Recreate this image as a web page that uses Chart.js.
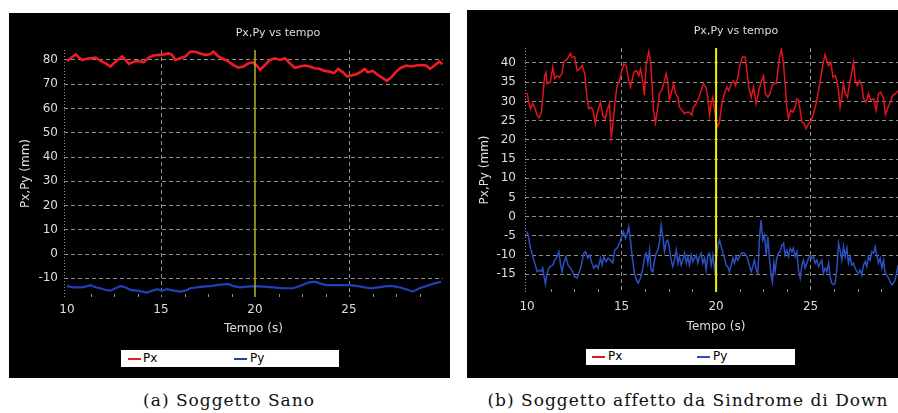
<!DOCTYPE html>
<html>
<head>
<meta charset="utf-8">
<script src="https://cdn.jsdelivr.net/npm/chart.js@4/dist/chart.umd.min.js"></script>
<style>
  body { margin: 0; width: 898px; height: 413px; overflow: hidden; background: #fff; position: relative; font-family: "DejaVu Sans", sans-serif; }
  .pannello { position: absolute; background: #000; }
  .legenda { position: absolute; background: #fff; font-size: 12px; color: #000; z-index: 2; }
  .legenda span { position: absolute; }
  .legenda .tratto { height: 2px; width: 13px; }
  .didascalia { position: absolute; width: 420px; text-align: center; font-family: "DejaVu Serif", serif; font-size: 17px; letter-spacing: 1px; line-height: 22px; color: #111; }
</style>
</head>
<body>

<div class="pannello" style="left:9px; top:13px; width:441px; height:365px;"><canvas id="sano" width="441" height="365"></canvas></div>
<div class="pannello" style="left:467px; top:10px; width:441px; height:368px;"><canvas id="down" width="441" height="368"></canvas></div>

<div class="legenda" style="left:121px; top:350px; width:218px; height:17px;">
  <span class="tratto" style="left:7px; top:8px; background:#ee1c24;"></span><span style="left:22px; top:1px;">Px</span>
  <span class="tratto" style="left:113px; top:8px; background:#2040b8;"></span><span style="left:129px; top:1px;">Py</span>
</div>
<div class="legenda" style="left:586px; top:349px; width:209px; height:16px;">
  <span class="tratto" style="left:6px; top:7px; background:#e0141e;"></span><span style="left:22px; top:0px;">Px</span>
  <span class="tratto" style="left:111px; top:7px; background:#2b4fc0;"></span><span style="left:127px; top:0px;">Py</span>
</div>

<div class="didascalia" style="left:19px; top:389px;">(a) Soggetto Sano</div>
<div class="didascalia" style="left:478px; top:389px;">(b) Soggetto affetto da Sindrome di Down</div>

<script>
// etichette degli assi
const tempoTick = [10, 15, 20, 25];
const sanoTickY = [-10, 0, 10, 20, 30, 40, 50, 60, 70, 80];
const downTickY = [-15, -10, -5, 0, 5, 10, 15, 20, 25, 30, 35, 40];

// soggetto sano
const sanoPxT = [10.0, 10.19, 10.46, 10.64, 10.81, 10.99, 11.25, 11.52, 11.78, 12.05, 12.31, 12.58, 12.93, 13.11, 13.29, 13.55, 13.82, 14.08, 14.35, 14.61, 14.88, 15.14, 15.41, 15.58, 15.76, 16.02, 16.29, 16.55, 16.82, 17.08, 17.35, 17.61, 17.79, 18.06, 18.32, 18.59, 18.85, 19.12, 19.38, 19.65, 19.88, 20.09, 20.27, 20.53, 20.8, 21.06, 21.33, 21.59, 21.86, 22.12, 22.39, 22.65, 22.92, 23.18, 23.45, 23.71, 23.98, 24.19, 24.42, 24.68, 24.89, 25.12, 25.39, 25.65, 25.83, 26.0, 26.27, 26.54, 26.8, 27.01, 27.24, 27.51, 27.77, 28.04, 28.3, 28.57, 28.83, 29.1, 29.31, 29.54, 29.81, 29.98];
const sanoPx = [79.6, 80.7, 82.3, 81, 80, 80.4, 80.7, 81, 79.6, 78.6, 77.3, 79.3, 81.4, 80, 78.4, 79.3, 79.6, 79, 81, 81.8, 82.1, 82.3, 82.7, 82.1, 80, 80.7, 81.4, 83.4, 83.4, 82.7, 82.1, 82.3, 83.4, 81.4, 80.4, 79.3, 77.9, 76.8, 77.3, 78.6, 79, 77.7, 75.9, 77.9, 80, 80.7, 80, 80.7, 78.6, 76.8, 77.3, 77.7, 77.3, 76.6, 76.3, 75.5, 75.2, 74.5, 76.3, 74.9, 73.2, 73.6, 74.1, 75.2, 76.3, 74.9, 75.5, 73.8, 72.5, 71.4, 72.7, 75.2, 76.8, 77.7, 77.3, 77.7, 77.9, 77.7, 76.3, 77.7, 79.3, 78.2];
const sanoPyT = [10, 10.37, 10.72, 10.99, 11.25, 11.52, 11.78, 12.05, 12.31, 12.58, 12.84, 13.11, 13.37, 13.73, 13.99, 14.26, 14.52, 14.79, 15.05, 15.32, 15.67, 16.02, 16.29, 16.55, 16.91, 17.26, 17.61, 17.97, 18.32, 18.59, 18.85, 19.21, 19.56, 20.0, 20.44, 20.97, 21.5, 22.03, 22.39, 22.83, 23.18, 23.45, 23.8, 24.15, 24.59, 25.04, 25.48, 25.83, 26.18, 26.54, 26.98, 27.33, 27.69, 28.04, 28.39, 28.75, 29.1, 29.45, 29.9];
const sanoPy = [-13.2, -13.7, -13.7, -13.4, -12.8, -13.7, -14.1, -14.8, -15.1, -14.1, -13.2, -13.7, -14.8, -15.1, -15.5, -15.9, -15.1, -14.5, -15.1, -14.5, -15.1, -15.5, -15.1, -14.1, -13.7, -13.4, -13.2, -12.8, -12.5, -12.3, -13.2, -13.7, -13.4, -13.2, -13.4, -13.7, -14.1, -14.1, -13.2, -11.8, -11.4, -12.1, -12.8, -12.8, -12.8, -12.8, -13.2, -13.7, -14.1, -13.7, -13.2, -13.2, -13.7, -14.5, -15.5, -14.1, -13.2, -12.3, -11.4];

// soggetto con sindrome di Down
const downPxT = [10.0, 10.09, 10.18, 10.3, 10.4, 10.53, 10.65, 10.76, 10.83, 10.93, 11.0, 11.06, 11.23, 11.36, 11.46, 11.59, 11.71, 11.85, 11.94, 12.12, 12.29, 12.38, 12.52, 12.65, 12.77, 12.91, 13.05, 13.17, 13.26, 13.38, 13.49, 13.61, 13.7, 13.88, 14.0, 14.14, 14.23, 14.36, 14.45, 14.53, 14.64, 14.76, 14.89, 15.03, 15.12, 15.24, 15.38, 15.47, 15.65, 15.79, 15.91, 16.0, 16.13, 16.21,
  16.3, 16.44, 16.55, 16.62, 16.69, 16.79, 16.92, 17.0, 17.15, 17.27, 17.36, 17.45, 17.53, 17.62, 17.75, 17.85, 17.98, 18.06, 18.2, 18.33, 18.45, 18.59, 18.72, 18.8, 18.95, 19.09, 19.21, 19.33, 19.47, 19.56, 19.65, 19.74, 19.83, 19.92, 20.0, 20.09, 20.18, 20.32, 20.44, 20.57, 20.67, 20.8, 20.92, 21.03, 21.15, 21.27, 21.41, 21.54, 21.63, 21.73, 21.86, 21.98, 22.12, 22.26, 22.38, 22.51, 22.61, 22.74,
  22.86, 22.95, 23.07, 23.18, 23.25, 23.35, 23.46, 23.57, 23.65, 23.74, 23.83, 23.95, 24.06, 24.18, 24.27, 24.36, 24.45, 24.54, 24.66, 24.76, 24.89, 25.01, 25.15, 25.29, 25.42, 25.54, 25.65, 25.77, 25.86, 25.95, 26.07, 26.18, 26.3, 26.39, 26.48, 26.56, 26.65, 26.74, 26.83, 26.95, 27.06, 27.15, 27.27, 27.36, 27.48, 27.59, 27.71, 27.8, 27.94, 28.06, 28.19, 28.33, 28.47, 28.59, 28.71, 28.86, 28.96, 29.07, 29.21, 29.35, 29.49, 29.63];
const downPx = [32.2, 29.8, 28.1, 29.4, 28.5, 26.4, 25.8, 27.2, 31.1, 36.7, 37.6, 34.6, 35, 38.9, 35.9, 36.7, 36.3, 37.2, 40.2, 41, 42.5, 41.5, 41.6, 38, 38.4, 39.3, 37.2, 31.1, 28.1, 28.5, 27.7, 24.2, 26.8, 29.8, 26.4, 25.5, 27.7, 29.4, 20.8, 23.4, 29.4, 34.1, 35.4, 38.4, 39.7, 39.3, 35.4, 33.7, 37.6, 38, 36.7, 38.4, 35, 31.6,
  39.7, 43, 39.7, 33.7, 27.7, 24.4, 28.5, 32, 33.3, 35.4, 37.2, 34.6, 30.3, 32, 34.6, 32, 31.1, 28.5, 27.7, 26.8, 27.2, 27.2, 26.4, 28.5, 29.4, 31.1, 32.8, 34.6, 33.7, 31.1, 26.4, 29.4, 31.1, 27.7, 24.7, 23.5, 24.7, 29.8, 32, 33.7, 32.8, 34.6, 35.4, 34.1, 36.3, 39.7, 41.6, 41.5, 38, 33.7, 31.1, 33.7, 29.4, 32.8, 35, 36.7, 32, 31.1,
  32, 34.1, 34.7, 34.6, 37.2, 41.5, 43.6, 39.7, 34.6, 28.5, 25.5, 27.7, 27.2, 28.5, 30.7, 30.3, 27.7, 24.7, 24.2, 22.9, 24.2, 24.7, 26.8, 29.4, 32.8, 36.3, 39.7, 42.2, 40.6, 39.3, 40.2, 36.3, 36.7, 35.4, 32.8, 28.5, 31.1, 34.6, 32, 31.1, 34.6, 36.7, 40.2, 35.4, 34.1, 35.4, 34.1, 30.7, 29.8, 32, 30.3, 30.7, 27.7, 32, 32.4, 30.7, 26.6, 28.1, 29.8, 31.6, 32, 32.8];
const downPyT = [10.0, 10.09, 10.18, 10.26, 10.35, 10.44, 10.53, 10.65, 10.76, 10.83, 10.9, 10.97, 11.06, 11.15, 11.23, 11.36, 11.46, 11.59, 11.68, 11.76, 11.85, 11.94, 12.06, 12.17, 12.29, 12.41, 12.52, 12.65, 12.77, 12.87, 13.0, 13.09, 13.21, 13.32, 13.4, 13.53, 13.65, 13.76, 13.88, 13.97, 14.06, 14.18, 14.29, 14.41, 14.53, 14.64, 14.76, 14.89, 15.0, 15.09, 15.21, 15.3, 15.38, 15.47, 15.56, 15.68, 15.79, 15.88, 16.0, 16.13, 16.23,
  16.3, 16.39, 16.48, 16.56, 16.65, 16.74, 16.83, 16.92, 17.01, 17.09, 17.18, 17.27, 17.36, 17.45, 17.53, 17.62, 17.71, 17.8, 17.89, 17.98, 18.06, 18.15, 18.24, 18.33, 18.42, 18.5, 18.59, 18.68, 18.77, 18.86, 18.95, 19.03, 19.12, 19.21, 19.3, 19.39, 19.47, 19.56, 19.65, 19.74, 19.83, 19.92, 20.0, 20.09, 20.18, 20.27, 20.36, 20.45, 20.53, 20.62, 20.71, 20.8, 20.89, 20.97, 21.06, 21.15, 21.24, 21.36, 21.5, 21.63, 21.73, 21.86, 21.94, 22.03, 22.12, 22.21, 22.3, 22.38, 22.47, 22.56, 22.65, 22.74, 22.83, 22.91, 22.98,
  23.06, 23.12, 23.21, 23.3, 23.39, 23.48, 23.57, 23.65, 23.74, 23.83, 23.92, 24.01, 24.09, 24.18, 24.27, 24.36, 24.45, 24.54, 24.62, 24.71, 24.8, 24.89, 24.98, 25.06, 25.15, 25.24, 25.33, 25.42, 25.51, 25.59, 25.68, 25.77, 25.86, 25.95, 26.03, 26.12, 26.21, 26.3, 26.39, 26.48, 26.56, 26.65, 26.74, 26.83, 26.92, 27.0, 27.09, 27.18, 27.27, 27.36, 27.45, 27.53, 27.62, 27.71, 27.8, 27.89, 27.97, 28.06, 28.15, 28.24, 28.33, 28.42, 28.5, 28.59, 28.68, 28.77, 28.86, 28.94, 29.03, 29.12, 29.21, 29.3, 29.39, 29.47, 29.56, 29.63];
const downPy = [-3.9, -5.6, -8.2, -9.5, -11.3, -12.6, -14.3, -13.9, -14.3, -13.4, -15.6, -17.5, -14.7, -13.4, -13, -12.6, -11.3, -10.4, -9.1, -12.1, -14.3, -12.1, -10.4, -12.6, -13.4, -14.3, -15.6, -16, -14.3, -12.6, -9.5, -9.1, -10.8, -10, -11.7, -13.4, -12.6, -13.4, -10.8, -12.6, -10.4, -11.7, -10.8, -11.3, -12.1, -8.7, -8.2, -6.9, -5.2, -3.9, -5.6, -4.3, -2.6, -6.1, -10.4, -14.7, -16.5, -17.3, -16, -13.4, -10,
  -9.5, -12.1, -8.7, -13.9, -14.3, -11.3, -9.5, -8.7, -6.5, -2.2, -5.2, -9.1, -6.5, -6.1, -8.2, -11.3, -13, -11.3, -8.7, -12.1, -10.4, -12.6, -11.3, -9.5, -12.1, -10.4, -12.6, -10, -11.7, -10.8, -10, -12.1, -10.4, -9.5, -12.1, -10.8, -13.9, -10, -9.5, -12.6, -10, -13.9, -11.3, -7.8, -6.1, -7.8, -9.5, -10.8, -12.6, -13, -14.3, -12.6, -10.8, -12.1, -10.4, -11.3, -10.4, -9.4, -9.5, -10.4, -12.1, -14.3, -13, -11.3, -13.9, -14.7, -5.2, -0.9, -6.1, -4.8, -10, -5.2, -11.3, -15.2, -17,
  -12, -14.3, -10.8, -9.5, -9.1, -7.4, -6.9, -10, -8.7, -10.4, -8.2, -9.1, -8.2, -10.4, -9.1, -13.9, -16, -12.6, -11.3, -13.4, -12.1, -10.8, -10, -10.8, -10.4, -12.1, -11.3, -13, -12.1, -11.3, -14.7, -13.4, -14.3, -12.1, -15.6, -17.3, -17.7, -17.3, -13.4, -6.9, -8.7, -11.3, -7.8, -10.4, -8.2, -12.1, -10.4, -12.6, -12.1, -13.4, -14.3, -14.7, -13.9, -15.2, -12.6, -11.7, -13, -10.4, -11.3, -9.1, -9.5, -7.8, -10, -12.1, -10.8, -13.4, -11.3, -14.7, -15.2, -16, -16.9, -17.7, -17.3, -16.5, -14.3, -12.6];

const GRIGIO = '#8e8e8e';
const TESTO = '#dedede';
const FONT = '"DejaVu Sans", sans-serif';

function punti(t, v) {
  return t.map((x, i) => ({ x: x, y: v[i] }));
}

// asse punteggiato, tacche minori, cursore a t=20 e titolo
const decorazioni = {
  id: 'decorazioni',
  beforeDatasetsDraw(chart, args, o) {
    const { ctx, chartArea: a, scales: { x } } = chart;
    ctx.save();
    ctx.strokeStyle = GRIGIO;
    ctx.lineWidth = 1;
    ctx.setLineDash([1, 2]);
    ctx.beginPath();
    ctx.moveTo(a.left + 0.5, a.top);
    ctx.lineTo(a.left + 0.5, a.bottom);
    ctx.stroke();
    ctx.setLineDash([]);
    ctx.beginPath();
    for (let t = 10; t < x.max; t += 1.25) {
      if (t % 5 === 0) continue;
      const px = Math.round(x.getPixelForValue(t)) + 0.5;
      ctx.moveTo(px, a.bottom - 3);
      ctx.lineTo(px, a.bottom);
    }
    ctx.stroke();
    ctx.restore();
  },
  afterDatasetsDraw(chart, args, o) {
    const { ctx, chartArea: a, scales: { x } } = chart;
    const px = x.getPixelForValue(20);
    ctx.save();
    ctx.strokeStyle = o.cursore;
    ctx.lineWidth = o.spessore;
    ctx.beginPath();
    ctx.moveTo(px, a.top);
    ctx.lineTo(px, a.bottom);
    ctx.stroke();
    ctx.fillStyle = TESTO;
    ctx.font = '11px ' + FONT;
    ctx.textAlign = 'center';
    ctx.textBaseline = 'middle';
    ctx.fillText('Px,Py vs tempo', o.titoloX, o.titoloY);
    ctx.restore();
  }
};

function grafico(id, c) {
  return new Chart(document.getElementById(id), {
    type: 'line',
    data: {
      datasets: [
        { label: 'Px', data: punti(c.pxT, c.px), borderColor: c.rosso, borderWidth: c.spessori[0] },
        { label: 'Py', data: punti(c.pyT, c.py), borderColor: c.blu, borderWidth: c.spessori[1] }
      ]
    },
    options: {
      responsive: false,
      animation: false,
      parsing: false,
      elements: { point: { radius: 0 }, line: { tension: 0 } },
      layout: { padding: { top: c.alto, right: c.destra, left: 0, bottom: c.basso } },
      plugins: {
        legend: { display: false },
        tooltip: { enabled: false },
        decorazioni: { cursore: c.cursore, spessore: c.spessoreCursore, titoloX: 269, titoloY: c.titoloY }
      },
      scales: {
        x: {
          type: 'linear',
          min: c.xMin,
          max: c.xMax,
          afterBuildTicks: s => { s.ticks = tempoTick.map(v => ({ value: v })); },
          afterFit: s => { s.height = c.altezzaX; },
          grid: {
            color: g => (g.tick && (g.tick.value === 10 || g.tick.value === 20)) ? 'transparent' : GRIGIO,
            drawTicks: false
          },
          border: { display: false, dash: [4, 3] },
          ticks: { color: TESTO, font: { family: FONT, size: 12 }, padding: c.padX, maxRotation: 0 },
          title: { display: true, text: 'Tempo (s)', color: TESTO, font: { family: FONT, size: 12 }, padding: { top: 0, bottom: 4 } }
        },
        y: {
          min: c.yMin,
          max: c.yMax,
          afterBuildTicks: s => { s.ticks = c.tickY.map(v => ({ value: v })); },
          afterFit: s => { s.width = c.larghezzaY; },
          grid: { color: GRIGIO, drawTicks: false },
          border: { display: false, dash: [4, 3] },
          ticks: { color: TESTO, font: { family: FONT, size: 12 }, padding: c.padY },
          title: { display: true, text: 'Px,Py (mm)', color: TESTO, font: { family: FONT, size: 12 }, padding: { top: c.padTitoloY, bottom: 0 } }
        }
      }
    },
    plugins: [decorazioni]
  });
}

grafico('sano', {
  pxT: sanoPxT, px: sanoPx, pyT: sanoPyT, py: sanoPy, tickY: sanoTickY,
  rosso: '#ee1c24', blu: '#2040b8', spessori: [2.6, 2.2],
  cursore: '#b4b428', spessoreCursore: 1.5,
  xMin: 9.84, xMax: 30.0, yMin: -17.7, yMax: 84.1,
  alto: 37, destra: 7, basso: 38, altezzaX: 43, larghezzaY: 55,
  padX: 6, padY: 6, padTitoloY: 10, titoloY: 20
});

grafico('down', {
  pxT: downPxT, px: downPx, pyT: downPyT, py: downPy, tickY: downTickY,
  rosso: '#e0141e', blu: '#2b4fc0', spessori: [1.5, 1.5],
  cursore: '#f2f000', spessoreCursore: 2,
  xMin: 9.89, xMax: 30.1, yMin: -19.6, yMax: 43.9,
  alto: 38, destra: 1, basso: 40, altezzaX: 46, larghezzaY: 58,
  padX: 8, padY: 9, padTitoloY: 11, titoloY: 21
});
</script>
</body>
</html>
